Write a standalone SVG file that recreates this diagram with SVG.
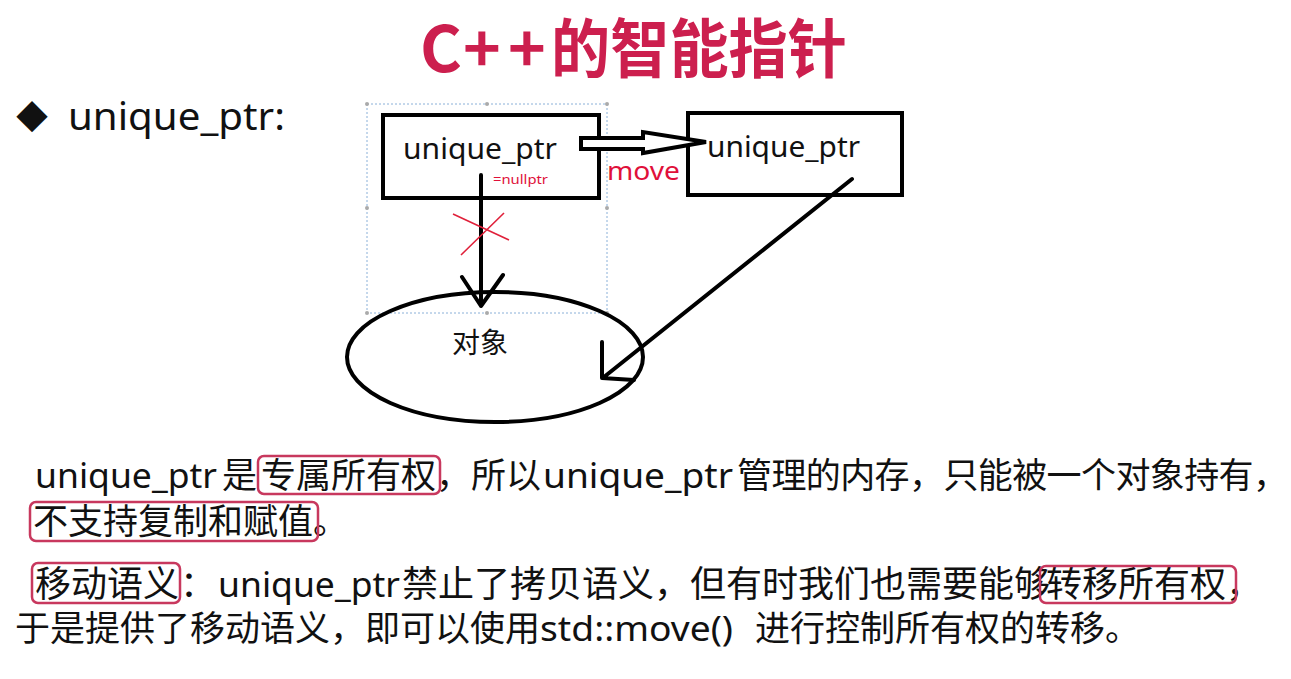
<svg xmlns="http://www.w3.org/2000/svg" width="1291" height="679" viewBox="0 0 1291 679">
<style>
.t{font-family:"Noto Sans","Noto Sans CJK SC",sans-serif;fill:#111}
.c{font-family:"Noto Sans CJK SC",sans-serif;fill:#111}
.red{fill:#e0103a}
.ln{stroke:#000;stroke-width:4;fill:none;stroke-linecap:round;stroke-linejoin:round}
.hl{fill:none;stroke:#c8385e;stroke-width:2.5}
.h{fill:#aaa}
</style>
<rect width="1291" height="679" fill="#fff"/>
<g id="title" font-family="'Noto Sans CJK SC',sans-serif" font-weight="bold" font-size="64" fill="#cc1f4e">
<text x="420" y="72">C</text>
<text x="463" y="72">+</text>
<text x="508" y="72">+</text>
<text x="551" y="72" textLength="296" lengthAdjust="spacingAndGlyphs">的智能指针</text>
</g>
<g id="bullet">
<text class="c" x="16" y="129" font-size="32">◆</text>
<text class="t" x="68" y="130" font-size="38" textLength="217" lengthAdjust="spacingAndGlyphs">unique_ptr:</text>
</g>
<g id="selection">
<rect x="367" y="104" width="240" height="209" fill="none" stroke="#8ab0d8" stroke-width="1" stroke-dasharray="2 2"/>
<circle class="h" cx="367" cy="104" r="2"/><circle class="h" cx="487" cy="104" r="2"/><circle class="h" cx="607" cy="104" r="2"/>
<circle class="h" cx="367" cy="208" r="2"/><circle class="h" cx="607" cy="208" r="2"/>
<circle class="h" cx="367" cy="313" r="2"/><circle class="h" cx="487" cy="313" r="2"/><circle class="h" cx="607" cy="313" r="2"/>
</g>
<g id="node-left">
<rect x="383" y="115" width="216" height="83" fill="none" stroke="#000" stroke-width="4"/>
<text class="t" x="403" y="159" font-size="29" textLength="154" lengthAdjust="spacingAndGlyphs">unique_ptr</text>
<text class="t red" x="493" y="184" font-size="13" textLength="55" lengthAdjust="spacingAndGlyphs">=nullptr</text>
</g>
<g id="node-right">
<rect x="688" y="113" width="214" height="82" fill="none" stroke="#000" stroke-width="4"/>
<text class="t" x="707" y="157" font-size="29" textLength="153" lengthAdjust="spacingAndGlyphs">unique_ptr</text>
</g>
<g id="node-object">
<ellipse cx="495" cy="357" rx="148" ry="65" fill="none" stroke="#000" stroke-width="4"/>
<text class="c" x="452" y="353" font-size="28">对象</text>
</g>
<g id="connectors">
<polygon points="581,138 643,138 643,132 706,142 643,153 643,149 581,149" fill="#fff" stroke="#000" stroke-width="4" stroke-linejoin="miter"/>
<text class="t red" x="607" y="180" font-size="25" textLength="73" lengthAdjust="spacingAndGlyphs">move</text>
<path class="ln" d="M481,175 L481,306 M462,277 L481,306 L503,275"/>
<path d="M453,214 L509,240 M461,255 L504,213" stroke="#e0203a" stroke-width="1.6" fill="none"/>
<path class="ln" d="M852,179 L604,377 M602,342 L602,378 L634,380"/>
</g>
<g id="text-1">
<text class="t" x="35" y="488" font-size="35" textLength="182" lengthAdjust="spacingAndGlyphs">unique_ptr</text>
<text class="c" y="488" font-size="35"><tspan x="222">是</tspan><tspan x="261">专属所有权，所以</tspan></text>
<text class="t" x="543" y="488" font-size="35" textLength="190" lengthAdjust="spacingAndGlyphs">unique_ptr</text>
<text class="c" x="737" y="488" font-size="35" textLength="551" lengthAdjust="spacing">管理的内存，只能被一个对象持有，</text>
<text class="c" x="33" y="534" font-size="35">不支持复制和赋值。</text>
<rect class="hl" x="258" y="456" width="182" height="38" rx="6"/>
<rect class="hl" x="30" y="502" width="288" height="39" rx="6"/>
</g>
<g id="text-2">
<text class="c" y="597" font-size="36"><tspan x="35">移动语义</tspan><tspan x="180">：</tspan></text>
<text class="t" x="218" y="597" font-size="35" textLength="182" lengthAdjust="spacingAndGlyphs">unique_ptr</text>
<text class="c" y="597" font-size="36"><tspan x="402">禁止了拷贝语义，但有时我们也需要能够</tspan><tspan x="1046">转移所有权，</tspan></text>
<text class="c" x="15" y="641" font-size="35">于是提供了移动语义，即可以使用</text>
<text class="t" x="540" y="641" font-size="35" textLength="193" lengthAdjust="spacingAndGlyphs">std::move()</text>
<text class="c" x="755" y="641" font-size="35">进行控制所有权的转移。</text>
<rect class="hl" x="32" y="563" width="148" height="40" rx="6"/>
<rect class="hl" x="1040" y="566" width="196" height="37" rx="6"/>
</g>
</svg>
